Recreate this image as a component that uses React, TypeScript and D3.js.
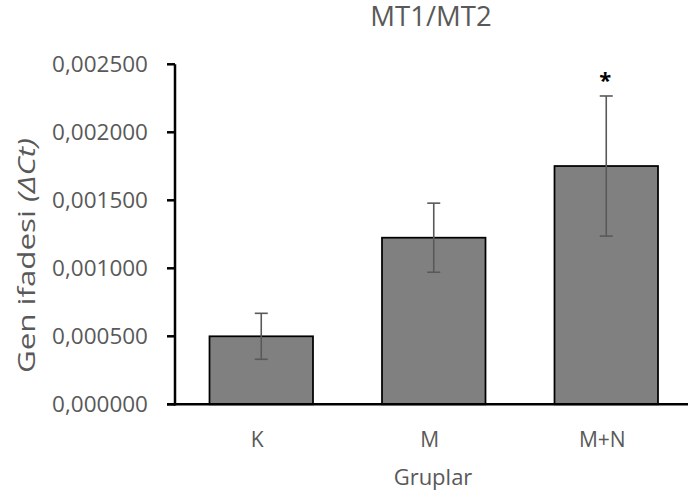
import React from "react";
import * as d3 from "d3";

const categories = ["K", "M", "M+N"];
const values = [0.0005, 0.001225, 0.001752];
const errors = [0.000169, 0.000254, 0.000515];
const significance = ["", "", "*"];
const yTicks = [0, 0.0005, 0.001, 0.0015, 0.002, 0.0025];
const yTickLabels = ["0,000000", "0,000500", "0,001000", "0,001500", "0,002000", "0,002500"];

const W = 688;
const H = 495;
const FONT = "'Open Sans', sans-serif";
const TXT = "#595959";

export default function App() {
  const y = d3.scaleLinear().domain([0, 0.0025]).range([404.3, 64.3]);
  const x = d3
    .scaleBand<string>()
    .domain(categories)
    .range([175, 692.5])
    .paddingInner(0.4)
    .paddingOuter(0.2);
  const bw = x.bandwidth();
  const cap = 6.5;
  return (
    <svg width={W} height={H} style={{ position: "absolute", left: 0, top: 0 }}>
      <rect x={0} y={0} width={W} height={H} fill="#fff" />
      <text x={431} y={26} textAnchor="middle" fontFamily={FONT} fontSize={27.5} fill={TXT}>
        MT1/MT2
      </text>
      {categories.map((c, i) => {
        const x0 = x(c)!;
        const cx = x0 + bw / 2;
        return (
          <g key={c}>
            <rect
              x={x0}
              y={y(values[i])}
              width={bw}
              height={y(0) - y(values[i])}
              fill="#808080"
              stroke="#000"
              strokeWidth={1.75}
            />
            <g stroke="#595959" strokeWidth={1.6}>
              <line x1={cx} x2={cx} y1={y(values[i] + errors[i])} y2={y(values[i] - errors[i])} />
              <line x1={cx - cap} x2={cx + cap} y1={y(values[i] + errors[i])} y2={y(values[i] + errors[i])} />
              <line x1={cx - cap} x2={cx + cap} y1={y(values[i] - errors[i])} y2={y(values[i] - errors[i])} />
            </g>
            {significance[i] && (
              <text
                x={cx - 1}
                y={y(values[i] + errors[i]) - 8}
                textAnchor="middle"
                fontFamily={FONT}
                fontWeight="bold"
                fontSize={22}
                fill="#000"
              >
                {significance[i]}
              </text>
            )}
            <text x={cx - 4} y={447} textAnchor="middle" fontFamily={FONT} fontSize={21} fill={TXT}>
              {c}
            </text>
          </g>
        );
      })}
      {yTicks.map((t, i) => (
        <g key={t}>
          <line x1={167} x2={175} y1={y(t)} y2={y(t)} stroke="#000" strokeWidth={2.5} />
          <text
            x={148}
            y={y(t)}
            dy="0.36em"
            textAnchor="end"
            fontFamily={FONT}
            fontSize={22.5}
            fill={TXT}
          >
            {yTickLabels[i]}
          </text>
        </g>
      ))}
      <line x1={175} x2={175} y1={y(0.0025)} y2={y(0) + 1.25} stroke="#000" strokeWidth={2.5} />
      <line x1={167} x2={688} y1={y(0)} y2={y(0)} stroke="#000" strokeWidth={2.5} />
      <text x={433} y={485} textAnchor="middle" fontFamily={FONT} fontSize={22} fill={TXT}>
        Gruplar
      </text>
      <text
        transform="translate(35,255.5) rotate(-90)"
        textAnchor="middle"
        fontFamily={FONT}
        fontSize={24}
        fill={TXT}
        textLength={235}
        lengthAdjust="spacingAndGlyphs"
      >
        Gen ifadesi <tspan fontStyle="italic">(ΔCt)</tspan>
      </text>
    </svg>
  );
}
